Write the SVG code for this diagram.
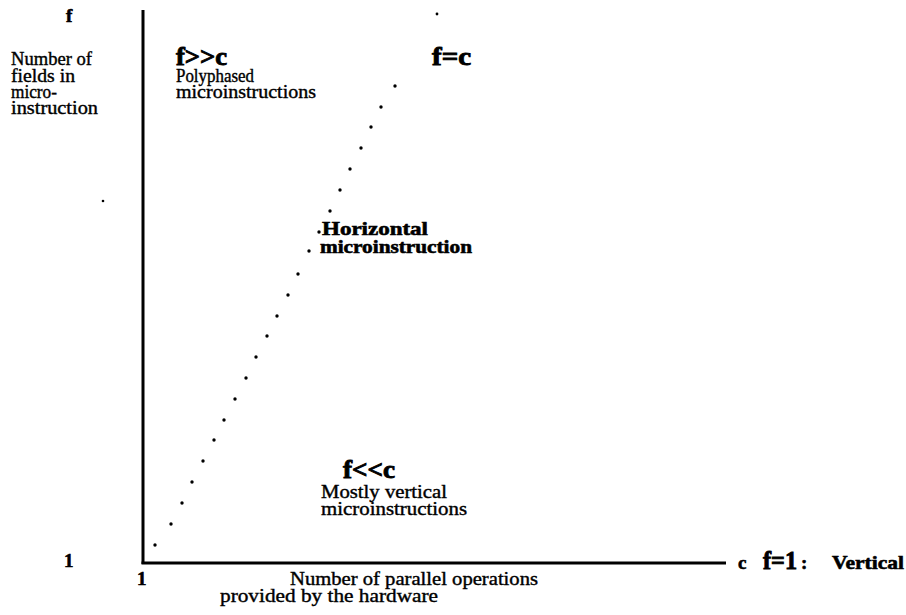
<svg xmlns="http://www.w3.org/2000/svg" width="906" height="615" viewBox="0 0 906 615">
<style>
text{font-family:"Liberation Serif","Times New Roman",serif;fill:#000;stroke:#000}
.r{font-size:19px;stroke-width:0.4}
.b{font-size:19px;font-weight:bold;stroke-width:0.6}
.bl{font-size:26px;font-weight:bold;stroke-width:0.9}
.ax{stroke:#000;stroke-width:3;fill:none}
.d{fill:#000}
</style>
<rect width="906" height="615" fill="#fff"/>
<g id="axes">
<line class="ax" x1="143" y1="10" x2="143" y2="564"/>
<line class="ax" x1="141.5" y1="563" x2="726" y2="563"/>
</g>
<g id="dots">
<circle class="d" cx="155" cy="545" r="1.7"/>
<circle class="d" cx="171" cy="524" r="1.7"/>
<circle class="d" cx="182" cy="503" r="1.7"/>
<circle class="d" cx="192" cy="482" r="1.7"/>
<circle class="d" cx="203" cy="461" r="1.7"/>
<circle class="d" cx="214" cy="440" r="1.7"/>
<circle class="d" cx="224" cy="420" r="1.7"/>
<circle class="d" cx="235" cy="399" r="1.7"/>
<circle class="d" cx="246" cy="378" r="1.7"/>
<circle class="d" cx="256" cy="357" r="1.7"/>
<circle class="d" cx="267" cy="336" r="1.7"/>
<circle class="d" cx="277" cy="316" r="1.7"/>
<circle class="d" cx="288" cy="295" r="1.7"/>
<circle class="d" cx="298" cy="274" r="1.7"/>
<circle class="d" cx="309" cy="251" r="1.7"/>
<circle class="d" cx="319" cy="232" r="1.7"/>
<circle class="d" cx="330" cy="211" r="1.7"/>
<circle class="d" cx="340" cy="190" r="1.7"/>
<circle class="d" cx="350" cy="169" r="1.7"/>
<circle class="d" cx="361" cy="148" r="1.7"/>
<circle class="d" cx="371" cy="127" r="1.7"/>
<circle class="d" cx="381" cy="107" r="1.7"/>
<circle class="d" cx="395" cy="86" r="1.7"/>
<circle class="d" cx="437" cy="14" r="1.4"/>
<circle class="d" cx="103" cy="201" r="1.3"/>
</g>
<g id="y-label">
<text class="b" x="66" y="22" font-size="20">f</text>
<text class="r" x="11" y="65" textLength="81" lengthAdjust="spacingAndGlyphs">Number of</text>
<text class="r" x="11" y="82" textLength="64" lengthAdjust="spacingAndGlyphs">fields in</text>
<text class="r" x="11" y="98" textLength="46" lengthAdjust="spacingAndGlyphs">micro-</text>
<text class="r" x="11" y="114" textLength="87" lengthAdjust="spacingAndGlyphs">instruction</text>
<text class="b" x="64" y="567" font-size="20">1</text>
</g>
<g id="polyphased">
<text class="bl" x="176" y="65" textLength="51" lengthAdjust="spacingAndGlyphs">f&gt;&gt;c</text>
<text class="r" x="176" y="82" textLength="78" lengthAdjust="spacingAndGlyphs">Polyphased</text>
<text class="r" x="176" y="98" textLength="140" lengthAdjust="spacingAndGlyphs">microinstructions</text>
</g>
<g id="f-eq-c">
<text class="bl" x="432" y="65" textLength="39" lengthAdjust="spacingAndGlyphs">f=c</text>
</g>
<g id="horizontal">
<text class="b" x="322" y="235" textLength="106" lengthAdjust="spacingAndGlyphs">Horizontal</text>
<text class="b" x="320" y="253" textLength="152" lengthAdjust="spacingAndGlyphs">microinstruction</text>
</g>
<g id="vertical-region">
<text class="bl" x="343" y="478" textLength="52" lengthAdjust="spacingAndGlyphs">f&lt;&lt;c</text>
<text class="r" x="321" y="498" textLength="126" lengthAdjust="spacingAndGlyphs">Mostly vertical</text>
<text class="r" x="321" y="515" textLength="146" lengthAdjust="spacingAndGlyphs">microinstructions</text>
</g>
<g id="x-label">
<text class="b" x="137" y="585" font-size="20">1</text>
<text class="r" x="290" y="585" textLength="248" lengthAdjust="spacingAndGlyphs">Number of parallel operations</text>
<text class="r" x="220" y="602" textLength="218" lengthAdjust="spacingAndGlyphs">provided by the hardware</text>
</g>
<g id="x-end">
<text class="b" x="738" y="569">c</text>
<text class="bl" x="763" y="569" textLength="34" lengthAdjust="spacingAndGlyphs">f=1</text>
<text class="b" x="801" y="569">:</text>
<text class="b" x="832" y="569" font-size="17" textLength="72" lengthAdjust="spacingAndGlyphs">Vertical</text>
</g>
</svg>
